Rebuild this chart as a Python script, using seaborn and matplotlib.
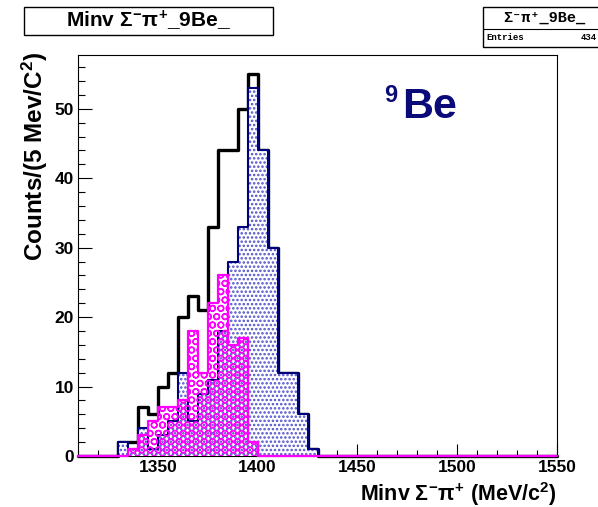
import numpy as np
import pandas as pd
import matplotlib
matplotlib.use("Agg")
import matplotlib.pyplot as plt
import seaborn as sns
from matplotlib.patches import Rectangle
from matplotlib.lines import Line2D
from matplotlib.ticker import MultipleLocator, FixedLocator

# ---------------- data ----------------
bin_width = 5
x_min, x_max = 1310, 1550
first_bin_low = 1330          # lower edge of the first listed bin
total_counts = [2, 2, 7, 6, 10, 12, 20, 23, 21, 33, 44, 44, 50, 55, 44, 30, 12, 12, 6, 1]
blue_counts  = [2, 1, 4, 1, 3, 5, 12, 5, 9, 11, 18, 28, 33, 53, 44, 30, 12, 12, 6, 1]
pink_counts  = [0, 1, 3, 5, 7, 7, 8, 18, 12, 22, 26, 16, 17, 2, 0, 0, 0, 0, 0, 0]
entries = 434
y_max = 57.75
x_ticks = [1350, 1400, 1450, 1500, 1550]
y_ticks = [0, 10, 20, 30, 40, 50]
title_text = r"Minv $\Sigma^{-}\pi^{+}$_9Be_"
stats_title = "Σ⁻π⁺_9Be_"
x_label = r"Minv $\Sigma^{-}\pi^{+}$ (MeV/c$^{2}$)"
y_label = r"Counts/(5 Mev/C$^{2}$)"

# ---------------- styling ----------------
sns.set_theme(style="white")
plt.rcParams["font.family"] = ["Liberation Sans", "DejaVu Sans"]
plt.rcParams["font.weight"] = "bold"
plt.rcParams["mathtext.fontset"] = "custom"
plt.rcParams["mathtext.rm"] = "Liberation Sans:bold"
plt.rcParams["mathtext.it"] = "Liberation Sans:bold"
plt.rcParams["mathtext.bf"] = "Liberation Sans:bold"
plt.rcParams["mathtext.sf"] = "Liberation Sans:bold"

W, H = 598, 507
fig = plt.figure(figsize=(W / 100, H / 100), dpi=100)
fig.patch.set_facecolor("white")
ax = fig.add_axes([78 / W, 1 - 456 / H, 479 / W, 401 / H])
ax.set_facecolor("white")

edges = np.arange(x_min, x_max + bin_width, bin_width)
bin_list = [float(e) for e in edges]
centers = edges[:-1] + bin_width / 2
n_bins = len(centers)
off = int((first_bin_low - x_min) / bin_width)


def full(vals):
    arr = np.zeros(n_bins)
    arr[off:off + len(vals)] = vals
    return arr


df = pd.DataFrame({
    "x": centers,
    "total": full(total_counts),
    "blue": full(blue_counts),
    "pink": full(pink_counts),
})

# total (black outline)
sns.histplot(data=df, x="x", weights="total", bins=bin_list, element="step",
             fill=False, color="black", linewidth=2.4, ax=ax, zorder=2,
             clip_on=False)
# blue: dotted fill + navy outline
plt.rcParams["hatch.linewidth"] = 1.2
sns.histplot(data=df, x="x", weights="blue", bins=bin_list, element="step",
             fill=True, color="#5050cc", facecolor="white", edgecolor="#5050cc",
             hatch="....", linewidth=0, ax=ax, zorder=3)
ax.collections[-1].set_alpha(None)
ax.collections[-1].set_facecolor("white")
ax.collections[-1].set_edgecolor("#5050cc")
ax.collections[-1].set_linewidth(0)
sns.histplot(data=df, x="x", weights="blue", bins=bin_list, element="step",
             fill=False, color="#00007a", linewidth=1.5, ax=ax, zorder=4,
             clip_on=False)
# pink: circle hatch + magenta outline
plt.rcParams["hatch.linewidth"] = 1.0
sns.histplot(data=df, x="x", weights="pink", bins=bin_list, element="step",
             fill=True, color="#ff00ff", facecolor="none", edgecolor="#ff00ff",
             hatch="OO", linewidth=0, ax=ax, zorder=5)
ax.collections[-1].set_alpha(None)
ax.collections[-1].set_facecolor("none")
ax.collections[-1].set_edgecolor("#ff00ff")
ax.collections[-1].set_linewidth(0)
sns.histplot(data=df, x="x", weights="pink", bins=bin_list, element="step",
             fill=False, color="#ff00ff", linewidth=1.6, ax=ax, zorder=6,
             clip_on=False)

ax.set_xlim(x_min, x_max)
ax.set_ylim(0, y_max)

# axes frame & ticks (ROOT style)
for s in ax.spines.values():
    s.set_visible(True)
    s.set_color("black")
    s.set_linewidth(0.8)
ax.xaxis.set_major_locator(FixedLocator(x_ticks))
ax.xaxis.set_minor_locator(MultipleLocator(10))
ax.yaxis.set_major_locator(FixedLocator(y_ticks))
ax.yaxis.set_minor_locator(MultipleLocator(2))
ax.tick_params(which="both", direction="in", top=False, right=False,
               bottom=True, left=True, color="black", width=0.8)
ax.tick_params(axis="x", which="major", length=8.7, pad=3, labelsize=12.5)
ax.tick_params(axis="x", which="minor", length=4.3)
ax.tick_params(axis="y", which="major", length=10.4, pad=3, labelsize=12.5)
ax.tick_params(axis="y", which="minor", length=5.2)
for lab in ax.get_xticklabels() + ax.get_yticklabels():
    lab.set_fontweight("bold")
    lab.set_color("black")

ax.set_xlabel(x_label, fontsize=15.5, fontweight="bold", color="black",
              ha="right", va="baseline")
ax.xaxis.set_label_coords(1.0, (456 - 501) / 401)
ax.set_ylabel(y_label, fontsize=17.5, fontweight="bold", color="black",
              ha="right", va="bottom")
ax.yaxis.set_label_coords((50 - 78) / 479, 1.0 + 3 / 401)

# title box
fig.patches.append(Rectangle((24 / W, 1 - 35 / H), (273 - 24) / W, 28 / H,
                             transform=fig.transFigure, facecolor="white",
                             edgecolor="black", linewidth=1.0))
fig.text(148 / W, 1 - 21 / H, title_text, ha="center", va="center",
         fontsize=15, fontweight="bold", color="black")

# stats box
fig.patches.append(Rectangle((483 / W, 1 - 47 / H), 140 / W, 40 / H,
                             transform=fig.transFigure, facecolor="white",
                             edgecolor="black", linewidth=1.0, clip_on=False))
fig.lines.append(Line2D([483 / W, 1.0], [1 - 29 / H, 1 - 29 / H],
                        transform=fig.transFigure, color="black", linewidth=0.8))
fig.text(544 / W, 1 - 18 / H, stats_title, ha="center", va="center",
         fontsize=11, fontweight="bold", color="black",
         family=["Liberation Mono", "DejaVu Sans Mono"])
fig.text(486 / W, 1 - 38 / H, "Entries", ha="left", va="center",
         fontsize=6.5, fontweight="bold", color="black",
         family=["Liberation Mono", "DejaVu Sans Mono"])
fig.text(597 / W, 1 - 38 / H, str(entries), ha="right", va="center",
         fontsize=6.5, fontweight="bold", color="black",
         family=["Liberation Mono", "DejaVu Sans Mono"])

# 9Be label
fig.text(384 / W, 1 - 102 / H, "9", ha="left", va="baseline",
         fontsize=17, fontweight="bold", color="#0a0a78")
fig.text(402 / W, 1 - 118 / H, "Be", ha="left", va="baseline",
         fontsize=31, fontweight="bold", color="#0a0a78")

fig.savefig("out.png", dpi=100, facecolor="white")
